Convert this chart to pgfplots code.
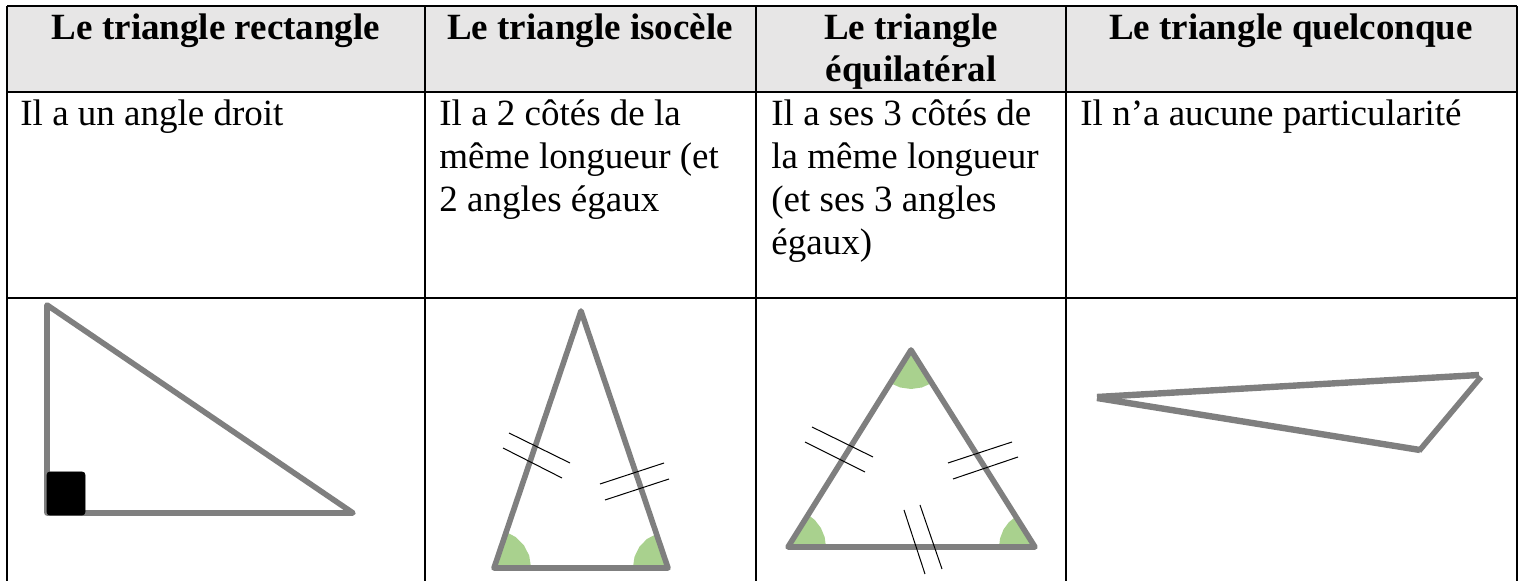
\documentclass[border=0pt]{standalone}
\usepackage{fontspec}
\setmainfont{Liberation Serif}
\usepackage{pgfplots}
\pgfplotsset{compat=1.18}
\definecolor{tri}{HTML}{7F7F7F}
\definecolor{ang}{HTML}{A9D18E}
\definecolor{head}{HTML}{E7E6E6}
\newcommand\bodyfont{\fontsize{18.5}{21.5}\selectfont}
\newcommand\headfont{\bfseries\fontsize{18.5}{21.5}\selectfont}
\begin{document}
\begin{tikzpicture}
\begin{axis}[width=761pt, height=290.5pt, scale only axis,
  xmin=0, xmax=1522, ymin=0, ymax=581, y dir=reverse,
  hide axis, clip=false]
\coordinate (ll) at (axis cs:0,581);
\coordinate (ur) at (axis cs:1522,0);
% header background
\addplot[fill=head, draw=none] coordinates {(7,6) (1517,6) (1517,92) (7,92)} --cycle;
% table lines
\addplot[black, line width=1pt] coordinates {(7,6) (1517,6)};
\addplot[black, line width=1pt] coordinates {(7,92) (1517,92)};
\addplot[black, line width=1pt] coordinates {(7,298) (1517,298)};
\addplot[black, line width=1pt] coordinates {(7,6) (7,581)};
\addplot[black, line width=1pt] coordinates {(425,6) (425,581)};
\addplot[black, line width=1pt] coordinates {(756,6) (756,581)};
\addplot[black, line width=1pt] coordinates {(1066,6) (1066,581)};
\addplot[black, line width=1pt] coordinates {(1517,6) (1517,581)};
% header text
\node[anchor=base, font=\headfont, inner sep=0pt] at (axis cs:216,40) {Le triangle rectangle};
\node[anchor=base, font=\headfont, inner sep=0pt] at (axis cs:590,40) {Le triangle isocèle};
\node[anchor=base, font=\headfont, inner sep=0pt] at (axis cs:911,40) {Le triangle};
\node[anchor=base, font=\headfont, inner sep=0pt] at (axis cs:911,82) {équilatéral};
\node[anchor=base, font=\headfont, inner sep=0pt] at (axis cs:1291,40) {Le triangle quelconque};
% body text
\node[anchor=base west, font=\bodyfont, inner sep=0pt] at (axis cs:20,126) {Il a un angle droit};
\node[anchor=base west, font=\bodyfont, inner sep=0pt] at (axis cs:439,126) {Il a 2 côtés de la};
\node[anchor=base west, font=\bodyfont, inner sep=0pt] at (axis cs:439,169) {même longueur (et};
\node[anchor=base west, font=\bodyfont, inner sep=0pt] at (axis cs:439,212) {2 angles égaux};
\node[anchor=base west, font=\bodyfont, inner sep=0pt] at (axis cs:771,126) {Il a ses 3 côtés de};
\node[anchor=base west, font=\bodyfont, inner sep=0pt] at (axis cs:771,169) {la même longueur};
\node[anchor=base west, font=\bodyfont, inner sep=0pt] at (axis cs:771,212) {(et ses 3 angles};
\node[anchor=base west, font=\bodyfont, inner sep=0pt] at (axis cs:771,255) {égaux)};
\node[anchor=base west, font=\bodyfont, inner sep=0pt] at (axis cs:1080,126) {Il n’a aucune particularité};
% right triangle
\addplot[tri, line width=2.8pt, line join=round, line cap=round] coordinates {(47,305) (47,513) (353,513)} --cycle;
\addplot[fill=black, draw=black, rounded corners=1.5pt] coordinates {(47,472) (85,472) (85,515) (47,515)} --cycle;
% isosceles: angle wedges
\addplot[fill=ang, draw=none] coordinates {(494,567) (531,567) (529.2,555.6) (523.9,545.2) (515.8,537.1) (506.1,532.0)} --cycle;
\addplot[fill=ang, draw=none] coordinates {(668,567) (656.6,533.9) (646.9,539.0) (639.3,546.9) (634.5,556.8) (633,567)} --cycle;
\addplot[tri, line width=2.8pt, line join=round, line cap=round] coordinates {(581,311) (494,568) (668,568)} --cycle;
% isosceles tick marks
\addplot[black, line width=0.5pt] coordinates {(509,433) (570,463)};
\addplot[black, line width=0.5pt] coordinates {(503,448) (562,478)};
\addplot[black, line width=0.5pt] coordinates {(600,484) (664,463)};
\addplot[black, line width=0.5pt] coordinates {(605,500) (669,479)};
% equilateral: angle wedges
\addplot[fill=ang, draw=none] coordinates {(911,350) (890.3,383.1) (900.2,387.5) (911,389) (921.8,387.5) (931.7,383.1)} --cycle;
\addplot[fill=ang, draw=none] coordinates {(788,547) (826,547) (824.7,537.2) (820.9,528) (814.9,520.1) (808.1,514.8)} --cycle;
\addplot[fill=ang, draw=none] coordinates {(1035,547) (1015.9,516.5) (1008.7,522.4) (1003.5,529.5) (1000.1,538.3) (999,547)} --cycle;
\addplot[tri, line width=2.8pt, line join=round, line cap=round] coordinates {(911,350) (788,547) (1035,547)} --cycle;
% equilateral tick marks
\addplot[black, line width=0.5pt] coordinates {(812,427) (873,457)};
\addplot[black, line width=0.5pt] coordinates {(805,442) (865,472)};
\addplot[black, line width=0.5pt] coordinates {(948,463) (1012,442)};
\addplot[black, line width=0.5pt] coordinates {(953,479) (1018,457)};
\addplot[black, line width=0.5pt] coordinates {(904,510) (925,574)};
\addplot[black, line width=0.5pt] coordinates {(920,505) (942,569)};
% scalene
\addplot[tri, line width=3.2pt] coordinates {(1097,397) (1479,375)};
\addplot[tri, line width=3.2pt] coordinates {(1097,398) (1420,450)};
\addplot[tri, line width=2.8pt] coordinates {(1481,377) (1419,451)};
\end{axis}
\pgfresetboundingbox
\useasboundingbox (ll) rectangle (ur);
\end{tikzpicture}
\end{document}
